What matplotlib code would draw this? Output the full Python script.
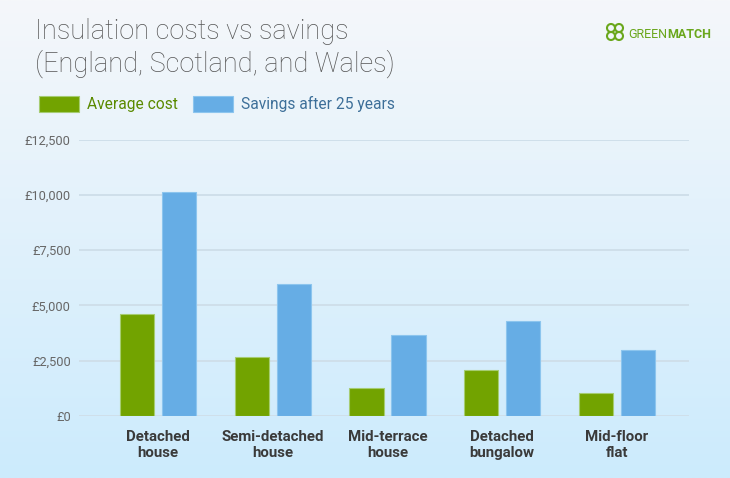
import matplotlib

matplotlib.use("Agg")
import matplotlib.pyplot as plt
import numpy as np
from matplotlib.patches import Rectangle, Ellipse

plt.rcParams["font.family"] = ["Roboto", "DejaVu Sans"]

# data
categories = ["Detached\nhouse", "Semi-detached\nhouse", "Mid-terrace\nhouse",
              "Detached\nbungalow", "Mid-floor\nflat"]
average_cost = [4600, 2650, 1250, 2075, 1025]
savings_25y = [10125, 5950, 3650, 4300, 3000]
y_ticks = [0, 2500, 5000, 7500, 10000, 12500]
y_tick_labels = ["£0", "£2,500", "£5,000", "£7,500", "£10,000", "£12,500"]

GREEN = "#72a300"
BLUE = "#66ade5"

fig = plt.figure(figsize=(7.3, 4.78), dpi=100)


def px(xp, yp):
    return xp / 730, 1 - yp / 478


# background gradient (light grey-white at top -> pale blue at bottom)
bg = fig.add_axes([0, 0, 1, 1], zorder=-10)
top = np.array([245, 247, 250]) / 255
bot = np.array([204, 235, 253]) / 255
t = np.linspace(0, 1, 256)[:, None]
grad = top[None, :] * (1 - t) + bot[None, :] * t
bg.imshow(grad[:, None, :], aspect="auto", extent=[0, 1, 0, 1], origin="upper")
bg.set_axis_off()

ax = fig.add_axes([0.1082, 0.1297, 0.8356, 0.578])
ax.patch.set_alpha(0)
x = np.arange(len(categories))
w = 0.30
off = 0.183
ax.bar(x - off, average_cost, w, color=GREEN, edgecolor="#a6cc72", linewidth=0.8, zorder=3)
ax.bar(x + off, savings_25y, w, color=BLUE, edgecolor="#8cc5ee", linewidth=0.8, zorder=3)

ax.set_ylim(0, 12500)
ax.set_xlim(-0.69, 4.63)
ax.set_yticks(y_ticks)
ax.set_yticklabels(y_tick_labels)
ax.set_xticks(x)
ax.set_xticklabels(categories, fontsize=10.8, fontweight="bold", color="#3a3a3a",
                   linespacing=1.15)
ax.tick_params(axis="y", length=0, pad=6, labelsize=9.2, labelcolor="#666666")
ax.tick_params(axis="x", length=0, pad=10)
ax.grid(axis="y", color="#cfdfea", linewidth=1.4, zorder=0)
ax.set_axisbelow(True)
for s in ax.spines.values():
    s.set_visible(False)

# title
fig.text(*px(35, 39), "Insulation costs vs savings", fontsize=19.5, fontweight="light",
         color="#555555", va="baseline")
fig.text(*px(35, 72), "(England, Scotland, and Wales)", fontsize=19.5, fontweight="light",
         color="#555555", va="baseline")

# legend
fig.patches.append(Rectangle(px(39, 112), 40 / 730, 16 / 478, transform=fig.transFigure,
                             facecolor=GREEN, edgecolor="#a6cc72", lw=0.8))
fig.text(*px(87, 109), "Average cost", fontsize=11.2, color="#5a8a00", va="baseline")
fig.patches.append(Rectangle(px(193, 112), 40 / 730, 16 / 478, transform=fig.transFigure,
                             facecolor=BLUE, edgecolor="#8cc5ee", lw=0.8))
fig.text(*px(241, 109), "Savings after 25 years", fontsize=11.2, color="#3d6f99",
         va="baseline")

# GreenMatch logo
LOGO = "#6aa71c"
cx, cy = 615, 32
for dx, dy in [(-4, -4), (4, -4), (-4, 4), (4, 4)]:
    fig.patches.append(Ellipse(px(cx + dx, cy + dy), 8 / 730, 8 / 478,
                               transform=fig.transFigure, facecolor="none",
                               edgecolor=LOGO, lw=1.5))
t1 = fig.text(*px(628, 38), "GREEN", fontsize=9.0, color=LOGO, va="baseline")
fig.canvas.draw()
bb = t1.get_window_extent()
fig.text(bb.x1 / 730, 1 - 38 / 478, "MATCH", fontsize=9.0, fontweight="bold",
         color=LOGO, va="baseline")

fig.savefig("out.png", dpi=100)
